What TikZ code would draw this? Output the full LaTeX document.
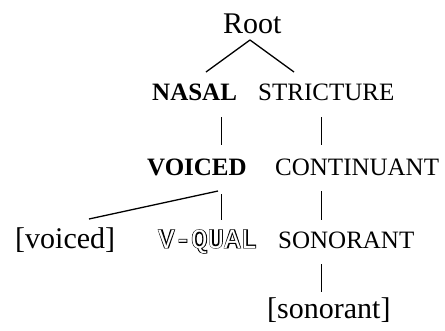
\documentclass[tikz,border=0pt]{standalone}
\usepackage{fontspec}
\setmainfont{Liberation Serif}
\setmonofont{Liberation Mono}
\newfontfamily\vqheavy[FakeBold=3]{Liberation Mono Bold}
\newfontfamily\vqthin{Liberation Mono}
\begin{document}
\begin{tikzpicture}[x=1pt,y=-1pt,
  lbl/.style={anchor=base west,inner sep=0pt,font=\fontsize{25}{30}\selectfont},
  big/.style={anchor=base west,inner sep=0pt,font=\fontsize{30}{36}\selectfont},
  branch/.style={line width=1.3pt},
  bar/.style={line width=0.9pt}]
\useasboundingbox (0,0) rectangle (445,330);
\node[big] (root) at (223,33) {Root};
\node[lbl,font=\fontsize{25}{30}\selectfont\bfseries] (nasal) at (152,100) {NASAL};
\node[lbl] (stricture) at (258,100) {STRICTURE};
\node[lbl,font=\fontsize{25}{30}\selectfont\bfseries] (voiced) at (147,175) {VOICED};
\node[lbl] (continuant) at (275,175) {CONTINUANT};
\node[big] (voicedf) at (15,248) {[voiced]};
\node[anchor=base west,inner sep=0pt,font=\fontsize{27.5}{30}\selectfont] (vqual) at (158,248) {\rlap{\vqheavy V-QUAL}{\vqthin\color{white}V-QUAL}};
\node[lbl] (sonorant) at (278,248) {SONORANT};
\node[big] (sonorantf) at (267,318) {[sonorant]};
% connector end points
\coordinate (rt) at (250,40);
\coordinate (nt) at (206,72);
\coordinate (st) at (294,72);
\coordinate (n1) at (221,117); \coordinate (v1) at (221,145);
\coordinate (s1) at (321,117); \coordinate (c1) at (321,145);
\coordinate (v2) at (218,191); \coordinate (vf) at (89,219);
\coordinate (v3) at (221,194); \coordinate (q3) at (221,220);
\coordinate (c3) at (321,191); \coordinate (s3) at (321,220);
\coordinate (s4) at (321,264); \coordinate (f4) at (321,292);
\draw[branch] (rt) -- (nt);
\draw[branch] (rt) -- (st);
\draw[bar] (n1) -- (v1);
\draw[bar] (s1) -- (c1);
\draw[branch] (v2) -- (vf);
\draw[bar] (v3) -- (q3);
\draw[bar] (c3) -- (s3);
\draw[bar] (s4) -- (f4);
\end{tikzpicture}
\end{document}
